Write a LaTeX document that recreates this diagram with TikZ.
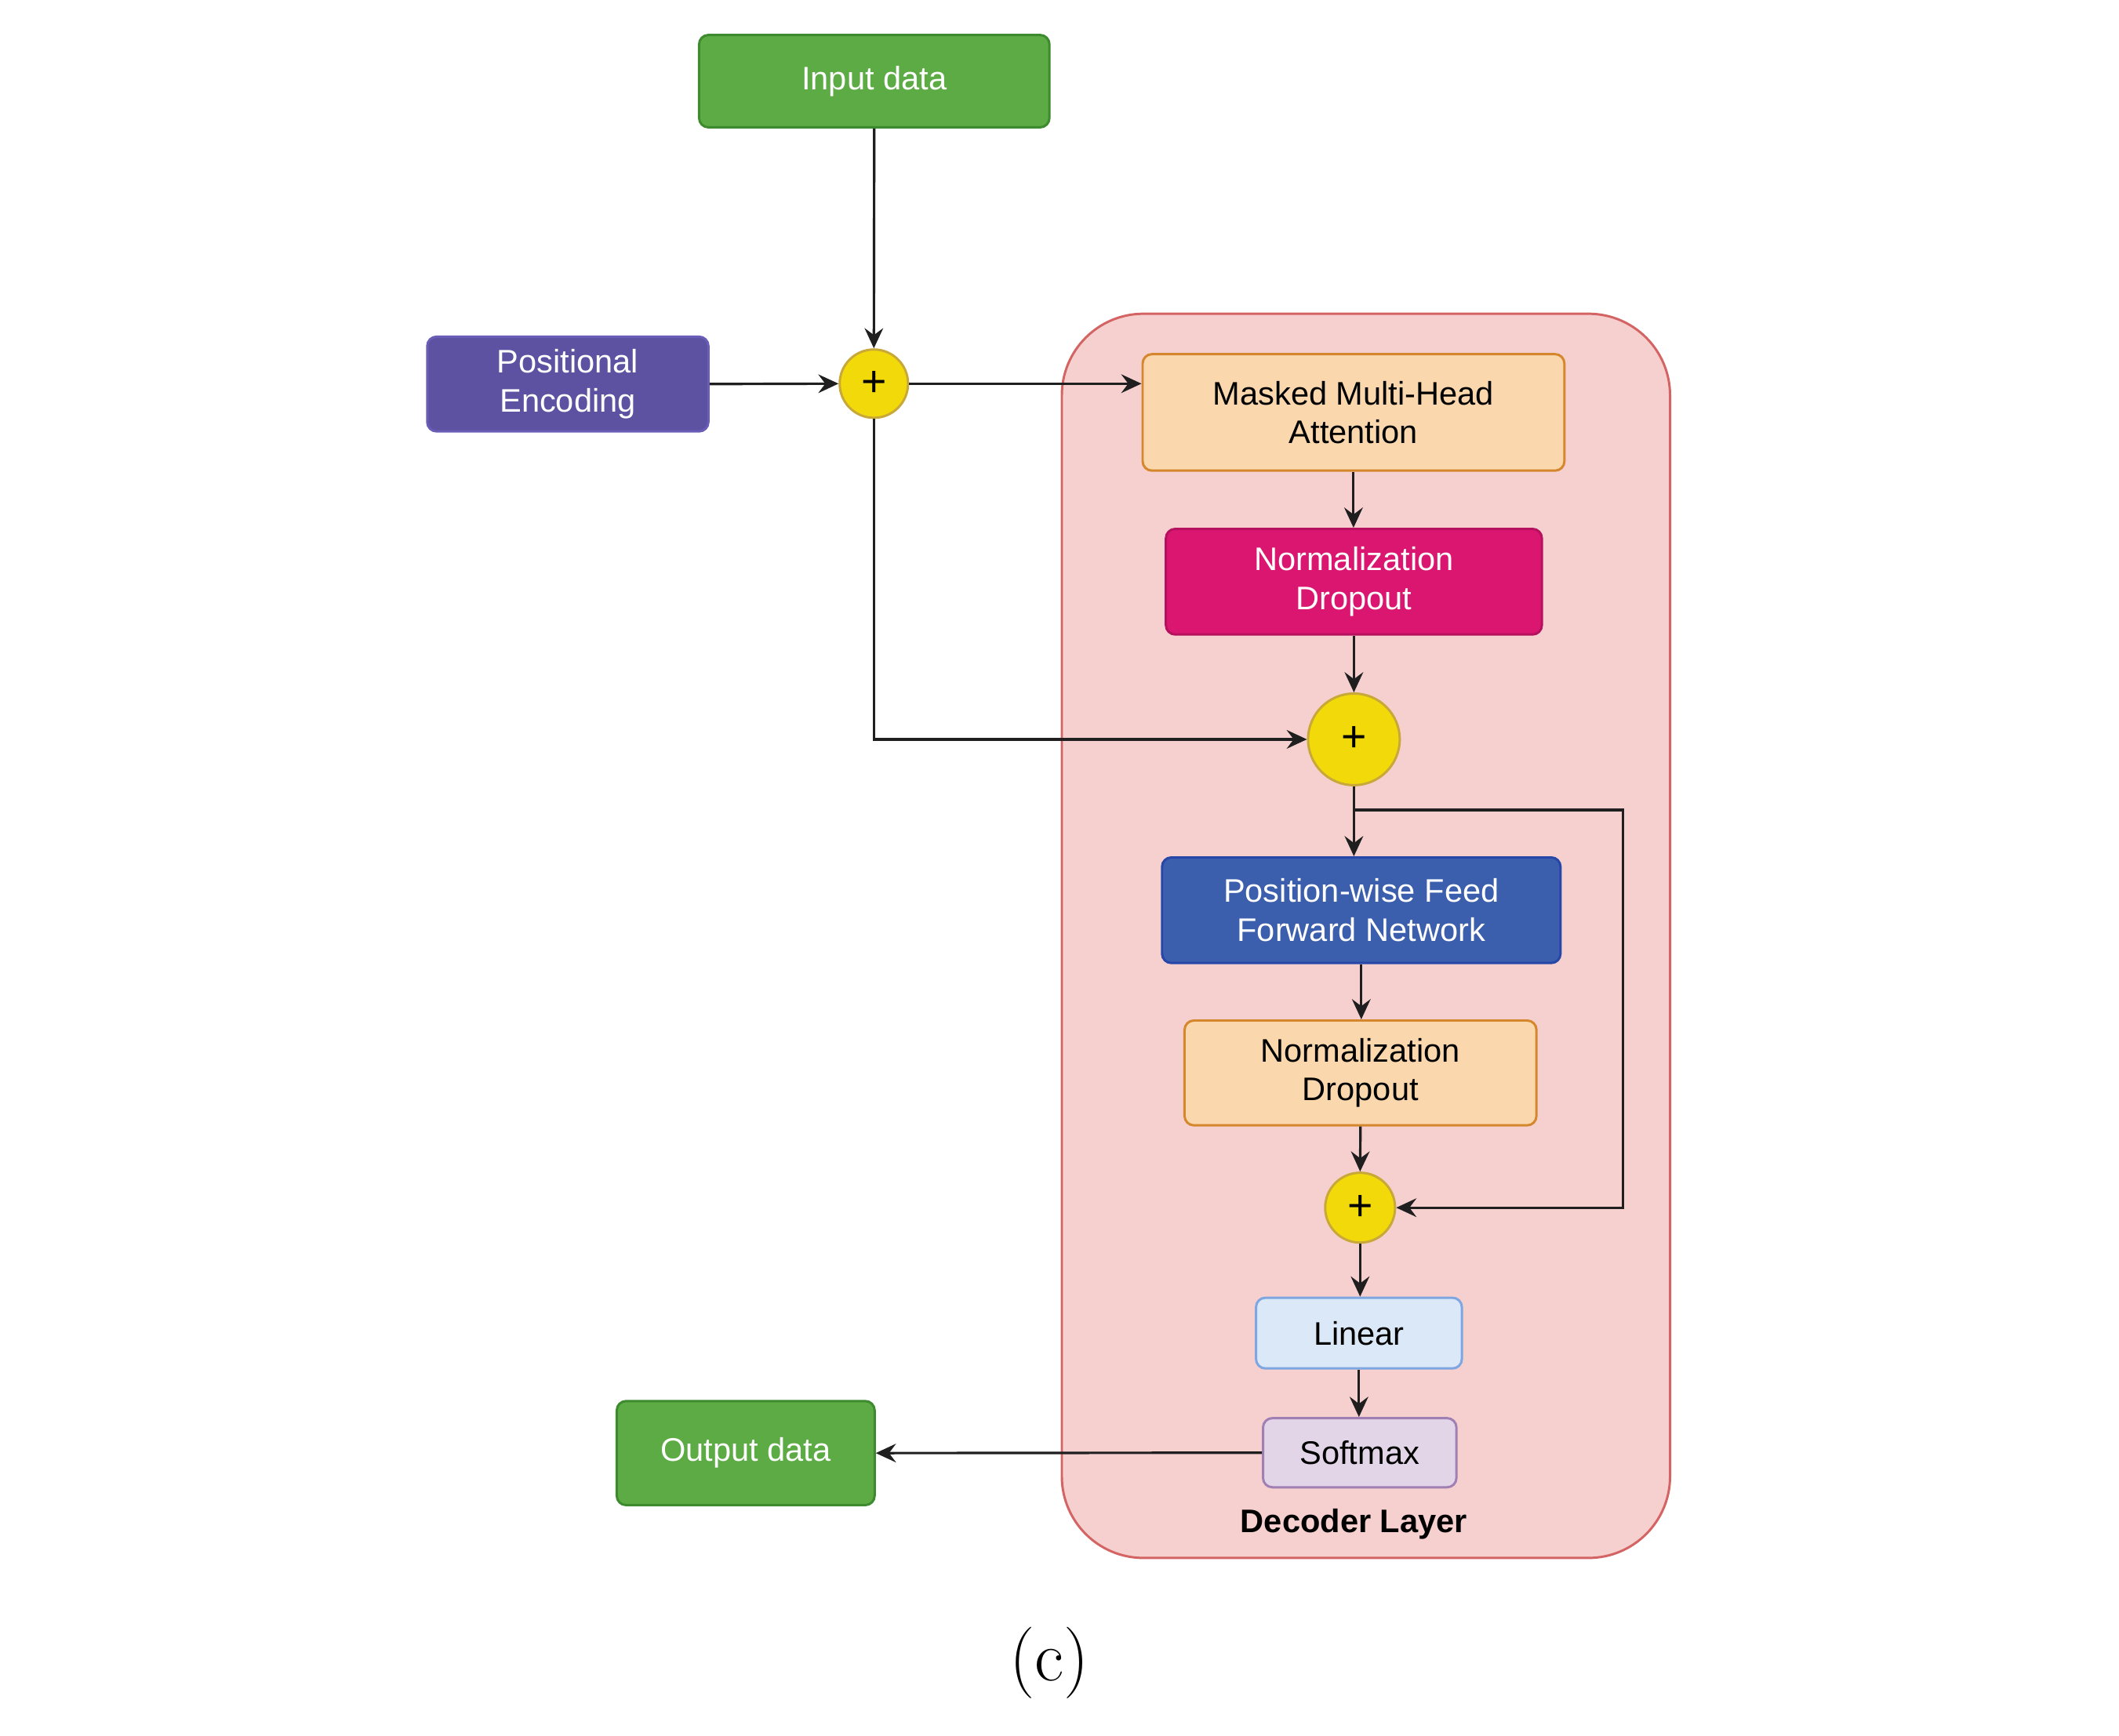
\documentclass[tikz,border=0pt]{standalone}
\usepackage{fontspec}
\newfontfamily\lib{Liberation Sans}
\usetikzlibrary{arrows.meta,calc}
\definecolor{gfill}{HTML}{5DAB45}
\definecolor{gline}{HTML}{3D8B2E}
\definecolor{pfill}{HTML}{5D51A2}
\definecolor{pline}{HTML}{6A5DB8}
\definecolor{yfill}{HTML}{F2DA0A}
\definecolor{yline}{HTML}{C8A838}
\definecolor{dfill}{HTML}{F6CFCF}
\definecolor{dline}{HTML}{D46464}
\definecolor{ofill}{HTML}{FAD7AC}
\definecolor{oline}{HTML}{D4872C}
\definecolor{mfill}{HTML}{DB1670}
\definecolor{mline}{HTML}{B5115F}
\definecolor{bfill}{HTML}{3B5EAD}
\definecolor{bline}{HTML}{2747A8}
\definecolor{lfill}{HTML}{DAE8F7}
\definecolor{lline}{HTML}{7EA6E0}
\definecolor{sfill}{HTML}{E2D5E7}
\definecolor{sline}{HTML}{9F7FB4}
\tikzset{
  box/.style={draw, line width=3pt, rounded corners=12pt, align=center, inner sep=0pt,
    font=\lib\fontsize{42}{50}\selectfont},
  greenbox/.style={box, fill=gfill, draw=gline, text=white},
  purplebox/.style={box, fill=pfill, draw=pline, text=white},
  orangebox/.style={box, fill=ofill, draw=oline, text=black},
  magentabox/.style={box, fill=mfill, draw=mline, text=white},
  bluebox/.style={box, fill=bfill, draw=bline, text=white},
  lightbox/.style={box, fill=lfill, draw=lline, text=black},
  softbox/.style={box, fill=sfill, draw=sline, text=black},
  plusnode/.style={circle, draw=yline, fill=yfill, line width=3pt, inner sep=0pt,
    font=\lib\fontsize{56}{56}\selectfont},
  decbox/.style={draw=dline, fill=dfill, line width=3pt, rounded corners=105pt, inner sep=0pt},
  arr/.style={-{Stealth[length=26pt,width=24pt,inset=9pt]}, line width=3.2pt, draw=black!88},
}
\begin{document}
\begin{tikzpicture}[x=1pt,y=-1pt]
\useasboundingbox (0,0) rectangle (2728,2234.5);
% decoder background
\node[decbox, minimum width=783pt, minimum height=1602pt] (dec) at (1758.5,1205) {};
\node[font=\lib\bfseries\fontsize{42}{50}\selectfont] (declab) at (1743,1962) {Decoder Layer};
% nodes
\node[greenbox, minimum width=451pt, minimum height=119pt] (in) at (1125.5,104.5) {Input data};
\node[purplebox, minimum width=362pt, minimum height=122pt] (pe) at (731,494.5) {Positional\\Encoding};
\node[plusnode, minimum size=88pt] (p1) at (1125,494) {+};
\node[orangebox, minimum width=543pt, minimum height=150pt] (mha) at (1742.5,531) {Masked Multi-Head\\Attention};
\node[magentabox, minimum width=484pt, minimum height=136pt] (nd1) at (1743,749) {Normalization\\Dropout};
\node[plusnode, minimum size=118pt] (p2) at (1743,952) {+};
\node[bluebox, minimum width=513pt, minimum height=136pt] (ffn) at (1752.5,1172) {Position-wise Feed\\Forward Network};
\node[orangebox, minimum width=453pt, minimum height=135pt] (nd2) at (1751.5,1381.5) {Normalization\\Dropout};
\node[plusnode, minimum size=90pt] (p3) at (1751,1555) {+};
\node[lightbox, minimum width=265pt, minimum height=91pt] (lin) at (1749.5,1716.5) {Linear};
\node[softbox, minimum width=249pt, minimum height=89pt] (soft) at (1750.5,1870.5) {Softmax};
\node[greenbox, minimum width=332pt, minimum height=134pt] (out) at (960,1871) {Output data};
% caption
\node[font=\fontsize{92}{96}\selectfont, inner sep=0pt] (cap) at (1351,2141) {(c)};
% connectors
\coordinate (fbstart) at (1743,1043);
\coordinate (fbcorner) at (2089,1043);
\draw[arr] (in.south) -- (p1.north);
\draw[arr] (pe.east) -- (p1.west);
\draw[arr] (p1.east) -- (p1.east -| mha.west);
\draw[arr] (mha.south) -- (mha.south |- nd1.north);
\draw[arr] (nd1.south) -- (p2.north);
\draw[arr] (p1.south) |- (p2.west);
\draw[arr] (p2.south) -- (p2.south |- ffn.north);
\draw[arr] (fbstart) -- (fbcorner) |- (p3.east);
\draw[arr] (ffn.south) -- (ffn.south |- nd2.north);
\draw[arr] (nd2.south) -- (p3.north);
\draw[arr] (p3.south) -- (p3.south |- lin.north);
\draw[arr] (lin.south) -- (lin.south |- soft.north);
\draw[arr] (soft.west) -- (out.east);
\end{tikzpicture}
\end{document}
